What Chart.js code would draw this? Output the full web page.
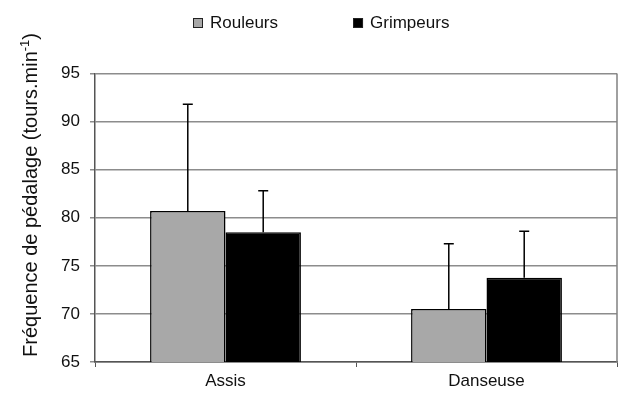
<!DOCTYPE html>
<html>
<head>
<meta charset="utf-8">
<script src="https://cdn.jsdelivr.net/npm/chart.js@4.4.0/dist/chart.umd.min.js"></script>
<style>
  html, body { margin: 0; padding: 0; background: #fff; }
  #wrap { width: 623px; height: 399px; }
</style>
</head>
<body>
<div id="wrap"><canvas id="chart" width="623" height="399"></canvas></div>
<script>
const positions = ["Assis", "Danseuse"];
const rouleurs = [80.7, 70.5];
const rouleursErr = [11.1, 6.8];
const grimpeurs = [78.5, 73.75];
const grimpeursErr = [4.3, 4.85];
const yTicks = [65, 70, 75, 80, 85, 90, 95];

const FONT = "'Liberation Sans', Arial, sans-serif";

// up-only error bars with a cap
const errorBars = {
  id: "errorBars",
  afterDatasetsDraw(chart) {
    const ctx = chart.ctx;
    const yScale = chart.scales.y;
    chart.data.datasets.forEach((ds, i) => {
      const meta = chart.getDatasetMeta(i);
      meta.data.forEach((bar, j) => {
        const top = yScale.getPixelForValue(ds.data[j] + ds.errors[j]);
        ctx.save();
        ctx.strokeStyle = "#000";
        ctx.lineWidth = 1.5;
        ctx.beginPath();
        ctx.moveTo(bar.x, bar.y);
        ctx.lineTo(bar.x, top);
        ctx.moveTo(bar.x - 5, top);
        ctx.lineTo(bar.x + 5, top);
        ctx.stroke();
        ctx.restore();
      });
    });
  },
};

// right frame line, legend and y title (with a real superscript)
const frameAndLegend = {
  id: "frameAndLegend",
  afterDraw(chart) {
    const ctx = chart.ctx;
    const area = chart.chartArea;
    ctx.save();
    ctx.strokeStyle = "#808080";
    ctx.lineWidth = 1.5;
    ctx.beginPath();
    ctx.moveTo(area.right, area.top);
    ctx.lineTo(area.right, area.bottom);
    ctx.stroke();

    ctx.font = "17px " + FONT;
    ctx.textBaseline = "middle";
    ctx.textAlign = "left";
    let x = 193;
    const y = 23;
    chart.data.datasets.forEach((ds) => {
      ctx.fillStyle = ds.backgroundColor;
      ctx.fillRect(x, y - 5, 10, 10);
      ctx.strokeStyle = "#222";
      ctx.lineWidth = 1;
      ctx.strokeRect(x + 0.5, y - 4.5, 9, 9);
      ctx.fillStyle = "#111";
      ctx.fillText(ds.label, x + 17, y);
      x += 17 + ctx.measureText(ds.label).width + 75;
    });

    // y axis title
    const main = "Fréquence de pédalage (tours.min";
    const sup = "-1";
    const end = ")";
    ctx.translate(37, 195);
    ctx.rotate(-Math.PI / 2);
    ctx.textBaseline = "alphabetic";
    ctx.font = "20px " + FONT;
    const wMain = ctx.measureText(main).width;
    const wEnd = ctx.measureText(end).width;
    ctx.font = "13px " + FONT;
    const wSup = ctx.measureText(sup).width;
    let tx = -(wMain + wSup + wEnd) / 2;
    ctx.fillStyle = "#111";
    ctx.font = "20px " + FONT;
    ctx.fillText(main, tx, 0);
    tx += wMain;
    ctx.font = "13px " + FONT;
    ctx.fillText(sup, tx, -8);
    tx += wSup;
    ctx.font = "20px " + FONT;
    ctx.fillText(end, tx, 0);
    ctx.restore();
  },
};

const chartEl = document.getElementById("chart");
const chartInstance = new Chart(chartEl, {
  type: "bar",
  data: {
    labels: positions,
    datasets: [
      {
        label: "Rouleurs",
        data: rouleurs,
        errors: rouleursErr,
        backgroundColor: "#a8a8a8",
        borderColor: "#000",
        borderWidth: 1.5,
        categoryPercentage: 0.578,
        barPercentage: 1.0,
      },
      {
        label: "Grimpeurs",
        data: grimpeurs,
        errors: grimpeursErr,
        backgroundColor: "#000",
        borderColor: "#000",
        borderWidth: 1.5,
        categoryPercentage: 0.578,
        barPercentage: 1.0,
      },
    ],
  },
  options: {
    responsive: false,
    animation: false,
    layout: { padding: { top: 73.5, right: 6, left: 0, bottom: 0 } },
    plugins: {
      legend: { display: false },
      tooltip: { enabled: false },
    },
    scales: {
      x: {
        grid: { display: true, drawOnChartArea: false, tickLength: 5, color: "#555", offset: true },
        border: { color: "#555", width: 1.5 },
        ticks: { color: "#111", font: { family: FONT, size: 17 }, padding: 4 },
        afterFit(scale) { scale.height = 37; },
      },
      y: {
        min: 65,
        max: 95,
        afterBuildTicks(scale) { scale.ticks = yTicks.map((v) => ({ value: v })); },
        grid: { color: "#8c8c8c", lineWidth: 1.5, tickLength: 5 },
        border: { color: "#555", width: 1.5 },
        ticks: { color: "#111", font: { family: FONT, size: 17 }, padding: 10 },
        afterFit(scale) { scale.width = 95; },
      },
    },
  },
  plugins: [errorBars, frameAndLegend],
});
</script>
</body>
</html>
